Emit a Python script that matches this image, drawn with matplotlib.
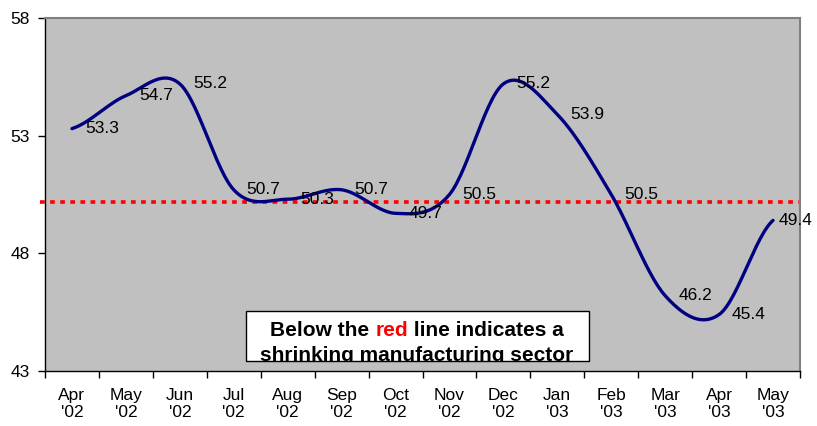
import matplotlib
matplotlib.use('Agg')
import matplotlib.pyplot as plt
import numpy as np
from matplotlib.patches import Rectangle

plt.rcParams['font.family'] = ['Liberation Sans', 'DejaVu Sans']

months = ['Apr', 'May', 'Jun', 'Jul', 'Aug', 'Sep', 'Oct',
          'Nov', 'Dec', 'Jan', 'Feb', 'Mar', 'Apr', 'May']
years = ["'02"] * 9 + ["'03"] * 5
index_values = [53.3, 54.7, 55.2, 50.7, 50.3, 50.7, 49.7,
                50.5, 55.2, 53.9, 50.5, 46.2, 45.4, 49.4]
threshold = 50.2


def smooth(y, n=30):
    # Excel-style smoothed line (Bezier through the points, Catmull-Rom handles)
    y = np.asarray(y, dtype=float)
    p = np.concatenate([[y[0]], y, [y[-1]]])
    xs, ys = [], []
    t = np.linspace(0, 1, n)
    for i in range(len(y) - 1):
        p0, p3 = p[i + 1], p[i + 2]
        c1 = p0 + (p[i + 2] - p[i]) / 6
        c2 = p3 - (p[i + 3] - p[i + 1]) / 6
        b = (1 - t) ** 3 * p0 + 3 * (1 - t) ** 2 * t * c1 + 3 * (1 - t) * t ** 2 * c2 + t ** 3 * p3
        xs.append(i + t)
        ys.append(b)
    return np.concatenate(xs), np.concatenate(ys)


fig = plt.figure(figsize=(8.17, 4.26), dpi=100)
ax = fig.add_axes([45 / 817, 55 / 426, 755 / 817, 353 / 426])
ax.set_facecolor('#C0C0C0')

x = np.arange(len(index_values))
sx, sy = smooth(index_values)
ax.plot(sx, sy, color='#000080', lw=2.4, solid_capstyle='round', zorder=3)

ax.plot([-0.6, 13.48], [threshold, threshold], color='#FF0000', lw=2.6,
        linestyle=(0, (1.3, 1.5)), dash_capstyle='butt', clip_on=False, zorder=2)

for i, v in enumerate(index_values):
    dx = 6 if i == len(index_values) - 1 else 13  # last label squeezed at the edge
    ax.annotate(f'{v}', (i, v), xytext=(dx, 0), textcoords='offset pixels',
                va='center', ha='left', fontsize=12.5, zorder=4, annotation_clip=False)

ax.set_xlim(-0.5, len(index_values) - 0.5)
ax.set_ylim(43, 58)
ax.set_yticks([43, 48, 53, 58])
ax.tick_params(axis='y', length=5, width=1, pad=6, labelsize=12.5)

ax.set_xticks(np.arange(-0.5, len(index_values)), labels=[])
ax.set_xticks(x, labels=[f'{m}\n{y}' for m, y in zip(months, years)], minor=True)
ax.tick_params(axis='x', which='major', length=5, width=1)
ax.tick_params(axis='x', which='minor', length=0, pad=12, labelsize=12.5)
for lab in ax.get_xticklabels(minor=True):
    lab.set_linespacing(1.2)

for s in ['left', 'bottom']:
    ax.spines[s].set_color('black')
    ax.spines[s].set_linewidth(1)
for s in ['top', 'right']:
    ax.spines[s].set_color('#808080')
    ax.spines[s].set_linewidth(1.5)

# note box
W, H = 817, 426
box = Rectangle((246 / W, (H - 361) / H), 343 / W, 50 / H,
                transform=fig.transFigure, facecolor='white',
                edgecolor='black', lw=1, zorder=5)
fig.patches.append(box)
note_size = 15
renderer = fig.canvas.get_renderer()
pieces = [('Below the ', 'black'), ('red', '#FF0000'), (' line indicates a', 'black')]
full = fig.text(0, 0, ''.join(p for p, _ in pieces), fontsize=note_size, fontweight='bold')
total = full.get_window_extent(renderer).width
full.remove()
xpos = 417 - total / 2
for i, (piece, col) in enumerate(pieces):
    t = fig.text(xpos / W, (H - 336) / H, piece, fontsize=note_size, fontweight='bold',
                 color=col, va='baseline', ha='left', zorder=6)
    # width of this piece measured up to the start of the following one
    probe = fig.text(0, 0, ''.join(p for p, _ in pieces[:i + 1]) + '|',
                     fontsize=note_size, fontweight='bold')
    bar = fig.text(0, 0, '|', fontsize=note_size, fontweight='bold')
    xpos = 417 - total / 2 + probe.get_window_extent(renderer).width - bar.get_window_extent(renderer).width
    probe.remove()
    bar.remove()
line2 = fig.text(417 / W, (H - 361) / H, 'shrinking manufacturing sector', fontsize=note_size,
                 fontweight='bold', ha='center', va='baseline', zorder=6)
line2.set_clip_path(box)

fig.savefig('out.png', dpi=100)
